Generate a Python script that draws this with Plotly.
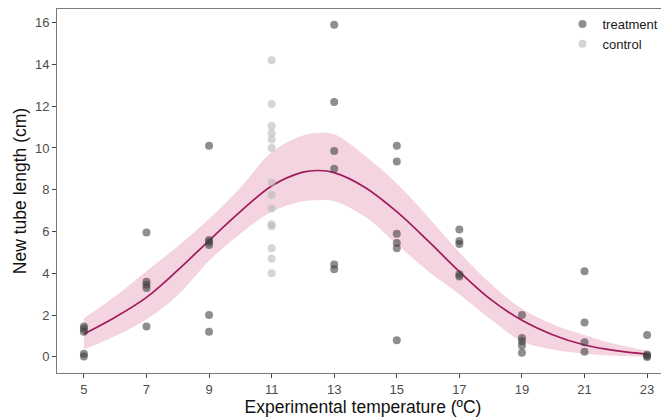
import plotly.graph_objects as go

# Observed points (treatment)
t_temp = [5]*5 + [7]*5 + [9]*6 + [13]*6 + [15]*6 + [17]*5 + [19]*5 + [21]*4 + [23]*4
t_len = [1.45, 1.35, 1.2, 0.15, 0.02,
         5.95, 3.6, 3.45, 3.3, 1.45,
         10.1, 5.6, 5.5, 5.35, 2.0, 1.2,
         15.9, 12.2, 9.85, 9.0, 4.42, 4.2,
         10.1, 9.35, 5.9, 5.45, 5.2, 0.8,
         6.1, 5.55, 5.4, 3.95, 3.85,
         2.0, 0.9, 0.75, 0.55, 0.2,
         4.1, 1.65, 0.7, 0.25,
         1.05, 0.12, 0.05, 0.0]

# Control points
c_temp = [11]*14
c_len = [14.2, 12.1, 11.05, 10.7, 10.4, 10.0, 8.35, 7.75, 7.1, 6.35, 6.25, 5.2, 4.7, 4.0]

# Fitted curve and confidence band
fit_temp = [5, 6, 7, 8, 9, 10, 11, 12, 12.5, 13, 14, 15, 16, 17, 18, 19, 20, 21, 22, 23]
fit_mid = [1.10, 1.9, 2.85, 4.15, 5.57, 6.95, 8.18, 8.84, 8.92, 8.82, 8.1, 6.95, 5.55, 4.08, 2.75, 1.75, 1.05, 0.57, 0.3, 0.13]
fit_hi = [1.85, 2.9, 4.1, 5.3, 6.6, 8.1, 9.8, 10.6, 10.72, 10.65, 9.6, 8.3, 6.7, 5.0, 3.5, 2.3, 1.55, 1.05, 0.6, 0.3]
fit_lo = [0.35, 1.0, 1.8, 2.95, 4.6, 5.9, 6.95, 7.45, 7.5, 7.45, 6.7, 5.4, 4.1, 3.0, 1.8, 0.75, 0.35, 0.15, 0.05, 0.0]

x_ticks = [5, 7, 9, 11, 13, 15, 17, 19, 21, 23]
y_ticks = [0, 2, 4, 6, 8, 10, 12, 14, 16]

FONT = "Liberation Sans, Arial, Helvetica, sans-serif"
band = "#F3D4E0"
curve = "#A11A5E"

fig = go.Figure()
fig.add_trace(go.Scatter(x=fit_temp, y=fit_lo, mode="lines", line=dict(width=0, shape="spline"),
                         showlegend=False, hoverinfo="skip"))
fig.add_trace(go.Scatter(x=fit_temp, y=fit_hi, mode="lines", line=dict(width=0, shape="spline"),
                         fill="tonexty", fillcolor=band, showlegend=False, hoverinfo="skip"))
fig.add_trace(go.Scatter(x=fit_temp, y=fit_mid, mode="lines",
                         line=dict(color=curve, width=1.7, shape="spline"), showlegend=False))
fig.add_trace(go.Scatter(x=t_temp, y=t_len, mode="markers", name="treatment",
                         marker=dict(size=8, color="rgba(60,60,60,0.58)", line=dict(width=0))))
fig.add_trace(go.Scatter(x=c_temp, y=c_len, mode="markers", name="control",
                         marker=dict(size=8, color="rgba(185,185,185,0.6)", line=dict(width=0))))

axis_common = dict(showline=True, linecolor="#7a7a7a", linewidth=1, ticks="outside",
                   ticklen=4, tickcolor="#444", tickwidth=1, showgrid=False, zeroline=False,
                   automargin=False,
                   tickfont=dict(family=FONT, size=13, color="#4d4d4d"))
fig.update_xaxes(range=[4.14, 23.7], tickvals=x_ticks, mirror=True,
                 title=dict(text="Experimental temperature (ºC)", standoff=3,
                            font=dict(family=FONT, size=17.5, color="#111")),
                 **axis_common)
fig.update_yaxes(range=[-0.77, 16.65], tickvals=y_ticks,
                 title=dict(text="New tube length (cm)", standoff=3,
                            font=dict(family=FONT, size=17.5, color="#111")),
                 **axis_common)
# page body has an 8px default margin; figure sized so plot area lands at x 57-669, y 9-373
fig.update_layout(width=661, height=411, margin=dict(l=49, r=0, t=1, b=46, autoexpand=False),
                  plot_bgcolor="white", paper_bgcolor="white",
                  font=dict(family=FONT),
                  legend=dict(x=0.826, y=1.0, xanchor="left", yanchor="top", traceorder="normal",
                              font=dict(family=FONT, size=13, color="#1a1a1a"),
                              bgcolor="rgba(0,0,0,0)", tracegroupgap=0, itemwidth=30))
fig.write_html("out.html")
